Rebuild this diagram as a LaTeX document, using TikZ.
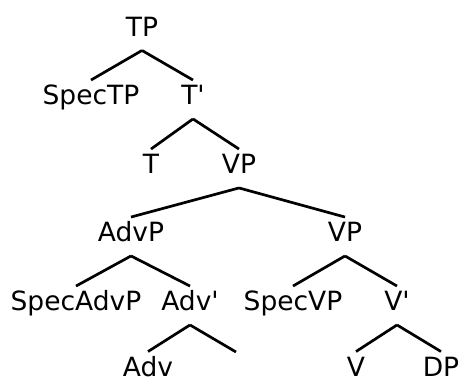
\documentclass[tikz,border=0pt]{standalone}
\usepackage{fontspec}
\setmainfont{DejaVu Sans}[Ligatures=TeXOff]
\usepackage{tikz}
\usetikzlibrary{positioning,calc}

\tikzset{
    cat/.style={inner sep=0pt, text height=19.5pt, text depth=0pt, anchor=center},
    branch/.style={line width=2.7pt}
}

\begin{document}
\begin{tikzpicture}[x=1pt, y=-1pt, font=\fontsize{26.5}{30}\selectfont]
    \useasboundingbox (0,0) rectangle (458,383);

    % Root
    \node[cat] (tp) at (142, 26.5) {TP};

    % Level 2
    \node[cat] (spectp) at (91, 95) {SpecTP};
    \node[cat] (tbar) at (193, 95) {T'};

    % Level 3
    \node[cat] (t) at (151, 164) {T};
    \node[cat] (vp) at (239, 164) {VP};

    % Level 4
    \node[cat] (advp) at (131, 232) {AdvP};
    \node[cat] (vpb) at (345, 232) {VP};

    % Level 5
    \node[cat] (specadvp) at (76, 301) {SpecAdvP};
    \node[cat] (advbar) at (190, 301) {Adv'};
    \node[cat] (specvp) at (293, 301) {SpecVP};
    \node[cat] (vbar) at (397, 301) {V'};

    % Level 6
    \node[cat] (adv) at (148, 366.5) {Adv};
    \node[cat] (v) at (356, 366.5) {V};
    \node[cat] (dp) at (441, 366.5) {DP};
    \coordinate (empty) at (236, 352);

    % Branches
    \foreach \p/\c in {tp/spectp, tp/tbar, tbar/t, tbar/vp, vp/advp, vp/vpb,
                       advp/specadvp, advp/advbar, vpb/specvp, vpb/vbar,
                       advbar/adv, vbar/v, vbar/dp}
        \draw[branch] ([yshift=-14pt]\p.south) -- ([yshift=5pt]\c.north);
    \draw[branch] ([yshift=-14pt]advbar.south) -- (empty);
\end{tikzpicture}
\end{document}
